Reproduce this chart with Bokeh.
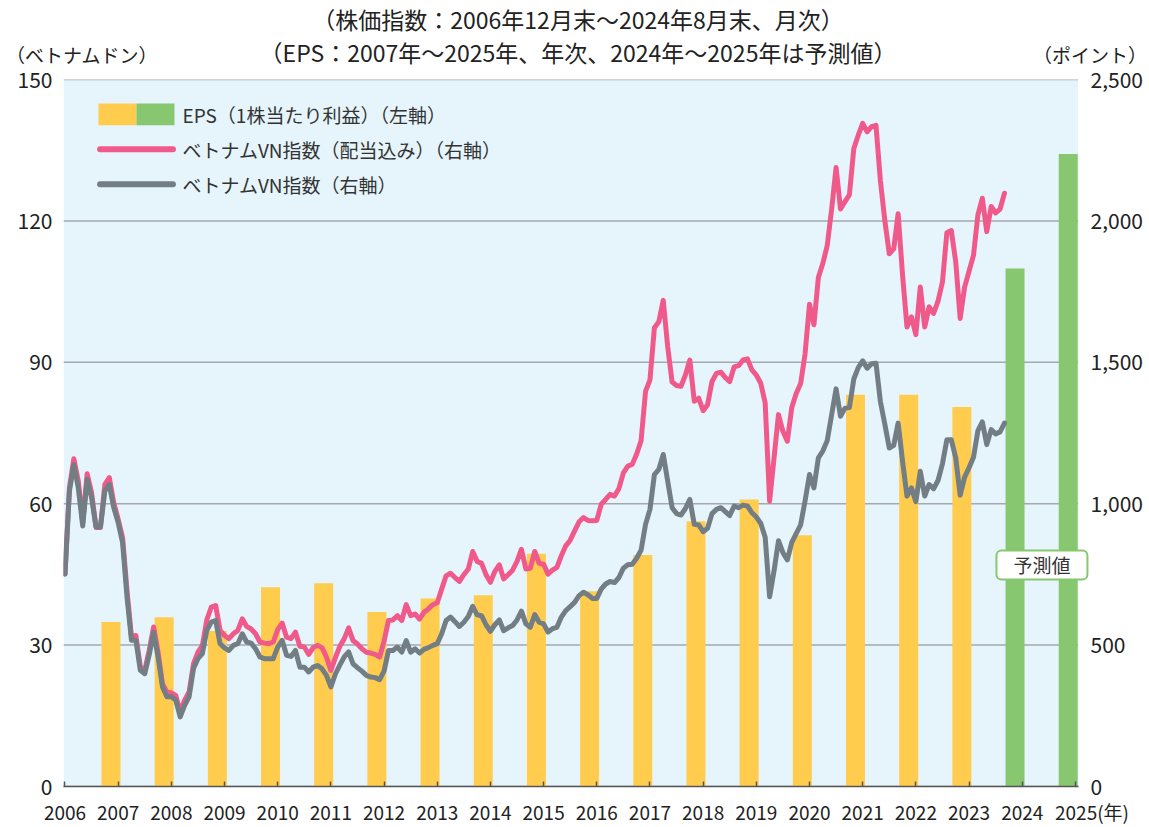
from bokeh.plotting import figure
from bokeh.models import Range1d, LinearAxis, FixedTicker, Label, NumeralTickFormatter, Div
from bokeh.layouts import column
from bokeh.embed import file_html
from bokeh.resources import INLINE
from bokeh.core.properties import value

FONT = "Noto Sans CJK JP"

# ---------------- data ----------------
eps_years = list(range(2007, 2026))
eps_values = [34.9, 35.9, 33.0, 42.3, 43.1, 37.0, 39.9, 40.6, 49.4, 41.4,
              49.1, 56.3, 60.9, 53.3, 83.1, 83.1, 80.5, 109.9, 134.2]
forecast_from = 2024

# VN index, month-end, Dec 2006 .. Aug 2024
vn_index = [
    751,
    1045, 1138, 1056, 921, 1086, 1021, 918, 918, 1045, 1068, 986, 933,
    862, 669, 517, 517, 411, 399, 465, 546, 458, 352, 317, 317,
    305, 246, 287, 317, 417, 452, 470, 552, 581, 587, 505, 490,
    481, 499, 505, 540, 511, 507, 487, 458, 452, 452, 452, 493,
    517, 464, 460, 481, 422, 422, 405, 422, 428, 416, 393, 352,
    397, 429, 458, 476, 434, 420, 408, 393, 387, 385, 378, 408,
    481, 481, 493, 475, 516, 475, 487, 472, 485, 491, 499, 505,
    540, 587, 599, 583, 566, 581, 601, 637, 607, 604, 572, 549,
    572, 589, 551, 561, 569, 589, 620, 575, 563, 608, 581, 575,
    546, 558, 563, 599, 622, 636, 651, 675, 687, 678, 665, 665,
    698, 716, 725, 721, 739, 772, 784, 786, 807, 836, 927, 980,
    1103, 1121, 1174, 1080, 986, 965, 960, 983, 1015, 927, 925, 901,
    913, 965, 980, 986, 972, 958, 992, 986, 995, 992, 968, 953,
    930, 881, 671, 763, 869, 827, 801, 863, 894, 925, 1010, 1103,
    1056, 1162, 1186, 1223, 1315, 1406, 1309, 1338, 1340, 1441, 1481, 1505,
    1479, 1495, 1497, 1361, 1281, 1197, 1206, 1285, 1150, 1027, 1056, 1007,
    1115, 1027, 1068, 1053, 1082, 1141, 1226, 1226, 1162, 1030, 1094, 1127,
    1164, 1258, 1289, 1209, 1262, 1247, 1254, 1285,
]

# VN index incl. dividends, same months
vn_index_tr = [
    751,
    1056, 1159, 1080, 933, 1106, 1039, 916, 916, 1068, 1092, 1004, 945,
    880, 692, 530, 534, 423, 411, 481, 564, 475, 363, 334, 331,
    322, 263, 305, 334, 434, 475, 499, 589, 634, 640, 552, 534,
    523, 540, 552, 593, 566, 557, 540, 511, 507, 505, 511, 555,
    578, 528, 523, 546, 496, 493, 467, 491, 499, 491, 458, 410,
    455, 495, 522, 561, 516, 504, 487, 475, 472, 467, 458, 514,
    587, 589, 604, 587, 643, 604, 610, 592, 616, 628, 643, 650,
    698, 745, 754, 739, 725, 749, 769, 831, 796, 789, 749, 722,
    761, 784, 734, 749, 765, 796, 839, 769, 772, 831, 789, 786,
    751, 765, 775, 816, 851, 871, 904, 936, 951, 941, 940, 941,
    998, 1015, 1033, 1027, 1054, 1109, 1133, 1139, 1176, 1223, 1397, 1438,
    1622, 1643, 1719, 1555, 1430, 1418, 1415, 1455, 1508, 1362, 1373, 1329,
    1350, 1432, 1461, 1465, 1446, 1432, 1484, 1488, 1508, 1512, 1473, 1455,
    1426, 1356, 1009, 1162, 1315, 1256, 1221, 1340, 1390, 1425, 1530, 1705,
    1633, 1800, 1849, 1913, 2042, 2189, 2042, 2068, 2092, 2256, 2303, 2345,
    2315, 2333, 2338, 2142, 2001, 1884, 1901, 2025, 1808, 1625, 1661, 1598,
    1766, 1625, 1696, 1673, 1716, 1784, 1958, 1966, 1855, 1655, 1766, 1822,
    1878, 2021, 2080, 1962, 2051, 2028, 2042, 2098,
]

left_ticks = [0, 30, 60, 90, 120, 150]
right_ticks = [0, 500, 1000, 1500, 2000, 2500]
year_ticks = list(range(2006, 2026))

title1 = "（株価指数：2006年12月末～2024年8月末、月次）"
title2 = "（EPS：2007年～2025年、年次、2024年～2025年は予測値）"
left_unit = "（ベトナムドン）"
right_unit = "（ポイント）"
year_unit = "(年)"
forecast_text = "予測値"
legend_labels = ["EPS（1株当たり利益）（左軸）",
                 "ベトナムVN指数（配当込み）（右軸）",
                 "ベトナムVN指数（右軸）"]

# ---------------- styling ----------------
YELLOW = "#FFCC4E"
GREEN = "#86C76F"
PINK = "#F05A8A"
GRAY = "#737D84"
BG = "#E6F5FC"
TXT = "#222222"

X0, X1 = 2005.972, 2025.052      # visible plot-area span
XEND = 2025.284                   # frame end (room for the forecast tag)

HEADER_H = 60

# ---------------- header ----------------
span = ("position:absolute;white-space:nowrap;line-height:1;font-family:'Noto Sans CJK JP';"
        "color:#222;")
header_html = (
    f'<div style="position:relative;width:1149px;height:{HEADER_H}px;">'
    f'<span style="{span}left:578px;top:19px;transform:translate(-50%,-50%);font-size:23px;">{title1}</span>'
    f'<span style="{span}left:578px;top:52px;transform:translate(-50%,-50%);font-size:23px;">{title2}</span>'
    f'<span style="{span}left:6px;top:54px;transform:translateY(-50%);font-size:19px;">{left_unit}</span>'
    f'<span style="{span}right:2px;top:54px;transform:translateY(-50%);font-size:19px;">{right_unit}</span>'
    '</div>'
)
header = Div(text=header_html, width=1149, height=HEADER_H, margin=0)

# ---------------- figure ----------------
p = figure(width=1149, height=827 - HEADER_H,
           x_range=Range1d(X0, XEND), y_range=Range1d(0, 150),
           output_backend="svg", toolbar_location=None,
           min_border_left=63, min_border_right=59,
           min_border_top=79 - HEADER_H, min_border_bottom=37,
           background_fill_color="white", border_fill_color=None,
           outline_line_color=None)
p.extra_y_ranges = {"idx": Range1d(0, 2500)}

# plot-area background
p.quad(left=[X0], right=[X1], bottom=[0], top=[150], color=BG, line_color=None)

# axes
p.xaxis.ticker = FixedTicker(ticks=year_ticks)
p.xaxis.bounds = (X0, X1)
p.xaxis.axis_line_color = "#555555"
p.xaxis.axis_line_width = 1.5
p.xaxis.major_tick_in = 5
p.xaxis.major_tick_out = 0
p.xaxis.major_tick_line_color = "#555555"
p.xaxis.major_tick_line_width = 1.5
p.xaxis.minor_tick_line_color = None
p.xaxis.major_label_text_font = FONT
p.xaxis.major_label_text_font_size = "19px"
p.xaxis.major_label_text_color = TXT
p.xaxis.major_label_standoff = 11
p.xaxis.major_label_overrides = {2025: "\u3000\u2002\u2005" + "2025" + year_unit}

p.yaxis.ticker = FixedTicker(ticks=left_ticks)
p.yaxis.axis_line_color = None
p.yaxis.major_tick_line_color = None
p.yaxis.major_tick_in = 0
p.yaxis.major_tick_out = 0
p.yaxis.minor_tick_line_color = None
p.yaxis.major_label_text_font = FONT
p.yaxis.major_label_text_font_size = "21px"
p.yaxis.major_label_text_color = TXT
p.yaxis.major_label_standoff = 11

raxis = LinearAxis(y_range_name="idx", ticker=FixedTicker(ticks=right_ticks),
                   formatter=NumeralTickFormatter(format="0,0"))
raxis.axis_line_color = None
raxis.major_tick_line_color = None
raxis.major_tick_in = 0
raxis.major_tick_out = 0
raxis.minor_tick_line_color = None
raxis.major_label_text_font = FONT
raxis.major_label_text_font_size = "21px"
raxis.major_label_text_color = TXT
raxis.major_label_standoff = 0
p.add_layout(raxis, "right")

p.xgrid.visible = False
p.ygrid.visible = False
# horizontal gridlines limited to the plot area
p.segment(x0=[X0] * len(left_ticks), x1=[X1] * len(left_ticks), y0=left_ticks, y1=left_ticks,
          line_color="#A5A9AE", line_width=1.5)

# bars
bar_x = [y - 0.135 for y in eps_years]
bar_colors = [GREEN if y >= forecast_from else YELLOW for y in eps_years]
p.vbar(x=bar_x, width=0.357, top=eps_values, bottom=0, color=bar_colors, line_color=None)

# lines
month_x = [2006 + m / 12 for m in range(len(vn_index))]
month_x_tr = [2006 + m / 12 for m in range(len(vn_index_tr))]
p.line(month_x_tr, vn_index_tr, y_range_name="idx", line_color=PINK, line_width=5,
       line_join="round", line_cap="round")
p.line(month_x, vn_index, y_range_name="idx", line_color=GRAY, line_width=5,
       line_join="round", line_cap="round")

# legend (drawn manually)
p.quad(left=[2006.63], right=[2007.344], bottom=[140.28], top=[144.93], color=YELLOW, line_color=None)
p.quad(left=[2007.344], right=[2008.059], bottom=[140.28], top=[144.93], color=GREEN, line_color=None)
p.line([2006.66, 2008.03], [135.2, 135.2], line_color=PINK, line_width=6, line_cap="round")
p.line([2006.66, 2008.03], [127.8, 127.8], line_color=GRAY, line_width=6, line_cap="round")
p.text(x=[2008.21] * 3, y=[142.6, 135.2, 127.8], text=legend_labels,
       text_font=value(FONT), text_font_size="19px", text_color="#333333",
       text_baseline="middle", text_align="left")

# forecast marker
p.add_layout(Label(x=2024.371, y=47.0, text=forecast_text, text_align="center", text_baseline="middle",
                   text_font=FONT, text_font_size="19px", text_color="#333333",
                   background_fill_color="white", border_line_color=GREEN, border_line_width=2,
                   padding=(17, 1), border_radius=5))

layout = column(header, p, spacing=0)
open("out.html", "w").write(file_html(layout, INLINE))
